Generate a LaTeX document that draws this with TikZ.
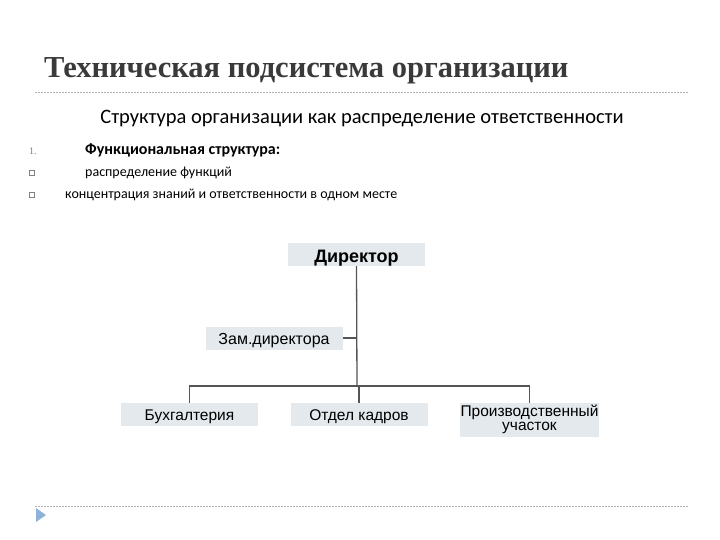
\documentclass[tikz,border=0pt]{standalone}
\usepackage{fontspec}
\setmainfont{Carlito}
\newfontfamily\titlefont{Liberation Serif}
\newfontfamily\chartfont{Liberation Sans}
\usetikzlibrary{positioning}
\definecolor{boxfill}{HTML}{E3E9EC}
\definecolor{linegray}{HTML}{555555}
\definecolor{titlegray}{HTML}{3A3A3A}
\definecolor{arrowblue}{HTML}{8FB2D8}

\begin{document}
\begin{tikzpicture}[x=1pt,y=-1pt,
  post/.style={fill=boxfill, minimum width=137pt, minimum height=23pt, inner sep=1pt,
    text height=12.5pt, text depth=0pt,
    font=\chartfont\fontsize{15.5}{16}\selectfont, align=center},
  conn/.style={draw=linegray, line width=1.3pt},
  rule/.style={draw=gray!60, dash pattern=on 2pt off 1pt, line width=0.6pt},
  bulletbox/.style={draw=gray, fill=white, minimum size=5pt, inner sep=0pt}]
\useasboundingbox (0,0) rectangle (720,540);
% slide heading
\node[anchor=base west, inner sep=0pt, text=titlegray,
  font=\titlefont\bfseries\fontsize{30.5}{33}\selectfont] (title) at (44,78) {Техническая подсистема организации};
\draw[rule] (35,92) -- (688,92);
\node[anchor=base, inner sep=0pt, font=\fontsize{20.5}{24}\selectfont] (sub) at (362,124)
  {Структура организации как распределение ответственности};
% list
\node[anchor=base west, inner sep=0pt, text=gray, font=\titlefont\fontsize{10}{12}\selectfont] (num) at (29,155) {1.};
\node[anchor=base west, inner sep=0pt, font=\bfseries\fontsize{16}{18}\selectfont] (item1) at (85,155) {Функциональная структура:};
\node[bulletbox] (b2) at (32,173) {};
\node[anchor=base west, inner sep=0pt, font=\fontsize{14}{16}\selectfont] (item2) at (85,177) {распределение функций};
\node[bulletbox] (b3) at (32,195) {};
\node[anchor=base west, inner sep=0pt, font=\fontsize{14}{16}\selectfont] (item3) at (65,199) {концентрация знаний и ответственности в одном месте};
% chart
\node[post, text height=15pt, font=\chartfont\bfseries\fontsize{18}{19}\selectfont] (dir) at (356.5,254.5) {Директор};
\node[post, font=\chartfont\fontsize{16}{17}\selectfont] (zam) at (274,338) {Зам.директора};
\node[post] (buh) at (189.5,414.5) {Бухгалтерия};
\node[post] (kadr) at (359,414.5) {Отдел кадров};
\node[post, minimum height=34pt, text height=24pt, text depth=4pt,
  font=\chartfont\fontsize{15.5}{14}\selectfont] (proizv) at (529.5,420) {Производственный\\участок};
\coordinate (bus) at (357,386);
\draw[conn] (dir.south) -- (bus);
\draw[conn] (zam.east) -- (zam.east -| dir.south);
\draw[conn] (buh.north) |- (bus) -| (proizv.north);
\draw[conn] (kadr.north) -- (kadr.north |- bus);
% footer
\draw[rule] (35,506) -- (688,506);
\fill[arrowblue] (36,508) -- (46,515) -- (36,522) -- cycle;
\end{tikzpicture}
\end{document}
